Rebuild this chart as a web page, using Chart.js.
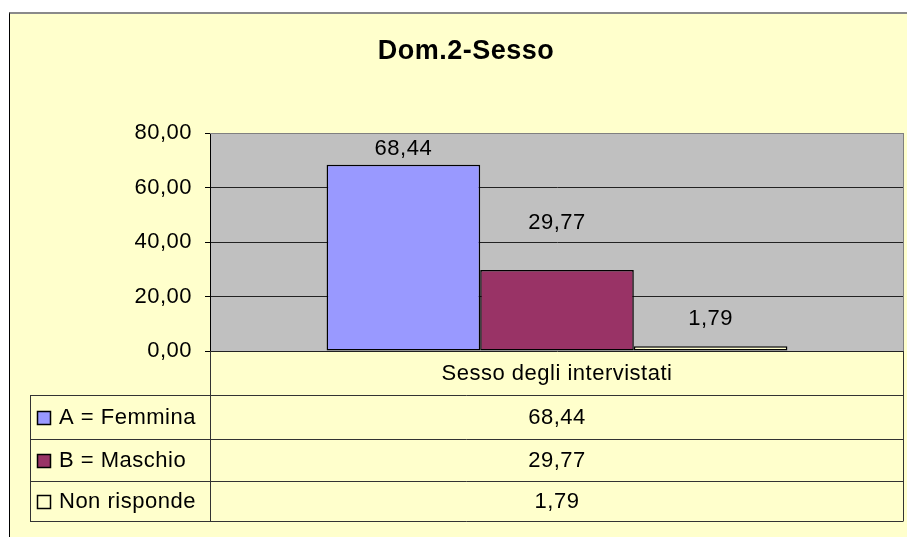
<!DOCTYPE html>
<html>
<head>
<meta charset="utf-8">
<script src="https://cdn.jsdelivr.net/npm/chart.js@4.4.0/dist/chart.umd.min.js"></script>
<style>
  html, body { margin: 0; padding: 0; background: #fff; overflow: hidden; }
  #frame { position: absolute; left: 9px; top: 12px; width: 920px; height: 540px; background: #FFFFCC; border-top: 2px solid #8a8a8a; border-left: 1px solid #000; }
  #sessoChart { position: absolute; left: 0; top: 0; }
</style>
</head>
<body>
<div id="frame"><canvas id="sessoChart" width="897" height="523"></canvas></div>
<script>
// Data
const categories = ['Sesso degli intervistati'];
const seriesNames = ['A = Femmina', 'B = Maschio', 'Non risponde'];
const femmina = [68.44];
const maschio = [29.77];
const nonRisponde = [1.79];
const yTicks = [0, 20, 40, 60, 80];

const seriesColors = ['#9999FF', '#993366', '#FFFFCC'];
const FONT = '"Liberation Sans", Arial, sans-serif';
const TEXT_SIZE = 22;

function fmt(v) {
    return Number(v).toFixed(2).replace('.', ',');
}

/**
 * Grey plot area + slightly wider Excel-like letter spacing
 */
const plotBackground = {
    id: 'plotBackground',
    beforeDraw(chart) {
        const { ctx, chartArea: a } = chart;
        ctx.letterSpacing = '0.5px';
        ctx.save();
        ctx.fillStyle = '#C0C0C0';
        ctx.fillRect(a.left, a.top, a.right - a.left, a.bottom - a.top);
        ctx.restore();
    }
};

/**
 * Value labels above the bars
 */
const barLabels = {
    id: 'barLabels',
    afterDatasetsDraw(chart, args, opts) {
        const { ctx } = chart;
        ctx.save();
        ctx.fillStyle = '#000';
        ctx.font = TEXT_SIZE + 'px ' + FONT;
        ctx.textAlign = 'center';
        ctx.textBaseline = 'middle';
        chart.data.datasets.forEach((ds, i) => {
            chart.getDatasetMeta(i).data.forEach((bar, j) => {
                ctx.fillText(fmt(ds.data[j]), bar.x, bar.y - opts.offsets[i]);
            });
        });
        ctx.restore();
    }
};

/**
 * Excel style data table under the plot
 */
const dataTable = {
    id: 'dataTable',
    afterDraw(chart, args, opts) {
        const { ctx, chartArea: a } = chart;
        const left = opts.left;
        const headerBottom = a.bottom + opts.headerHeight;
        const centerX = (a.left + a.right) / 2;
        let rowTops = [headerBottom];
        opts.rowHeights.forEach(h => rowTops.push(rowTops[rowTops.length - 1] + h));
        const tableBottom = rowTops[rowTops.length - 1];

        ctx.save();
        // plot border top / right
        ctx.strokeStyle = '#808080';
        ctx.lineWidth = 1;
        ctx.beginPath();
        ctx.moveTo(a.left, Math.round(a.top) + 0.5);
        ctx.lineTo(a.right, Math.round(a.top) + 0.5);
        ctx.moveTo(Math.round(a.right) - 0.5, a.top);
        ctx.lineTo(Math.round(a.right) - 0.5, a.bottom);
        ctx.stroke();

        // table lines
        ctx.strokeStyle = '#333';
        ctx.beginPath();
        const xl = Math.round(a.left) + 0.5;
        const xr = Math.round(a.right) - 0.5;
        ctx.moveTo(xl, a.bottom);
        ctx.lineTo(xl, tableBottom);
        ctx.moveTo(xr, a.bottom);
        ctx.lineTo(xr, tableBottom);
        ctx.moveTo(left + 0.5, headerBottom);
        ctx.lineTo(left + 0.5, tableBottom);
        rowTops.forEach(y => {
            ctx.moveTo(left, Math.round(y) + 0.5);
            ctx.lineTo(xr, Math.round(y) + 0.5);
        });
        ctx.stroke();

        // header text
        ctx.fillStyle = '#000';
        ctx.font = TEXT_SIZE + 'px ' + FONT;
        ctx.textBaseline = 'middle';
        ctx.textAlign = 'center';
        ctx.fillText(categories[0], centerX, a.bottom + opts.headerHeight / 2 + 1);

        // rows
        chart.data.datasets.forEach((ds, i) => {
            const yMid = (rowTops[i] + rowTops[i + 1]) / 2 + 1;
            // legend key
            ctx.fillStyle = ds.backgroundColor;
            ctx.fillRect(left + 7, yMid - 7, 14, 14);
            ctx.strokeStyle = '#000';
            ctx.lineWidth = 1.5;
            ctx.strokeRect(left + 7.5, yMid - 6.5, 13, 13);
            ctx.fillStyle = '#000';
            ctx.textAlign = 'left';
            ctx.fillText(ds.label, left + 29, yMid);
            ctx.textAlign = 'center';
            ctx.fillText(fmt(ds.data[0]), centerX, yMid);
        });
        ctx.restore();
    }
};

const ctx = document.getElementById('sessoChart').getContext('2d');
const sessoChart = new Chart(ctx, {
    type: 'bar',
    data: {
        labels: categories,
        datasets: [
            { label: seriesNames[0], data: femmina, backgroundColor: seriesColors[0] },
            { label: seriesNames[1], data: maschio, backgroundColor: seriesColors[1] },
            { label: seriesNames[2], data: nonRisponde, backgroundColor: seriesColors[2] }
        ].map(d => Object.assign(d, {
            borderColor: '#000',
            borderWidth: 1.5,
            borderSkipped: false,
            categoryPercentage: 0.664,
            barPercentage: 1
        }))
    },
    options: {
        responsive: false,
        animation: false,
        // left padding only pushes the title centre to the right; axis width compensates
        layout: { padding: { left: 18, right: 3, top: 0, bottom: 186 } },
        plugins: {
            legend: { display: false },
            tooltip: { enabled: false },
            title: {
                display: true,
                text: 'Dom.2-Sesso',
                color: '#000',
                font: { family: FONT, size: 27, weight: 'bold' },
                padding: { top: 21, bottom: 66 }
            },
            barLabels: { offsets: [16, 47, 27] },
            dataTable: { left: 20, headerHeight: 44, rowHeights: [44, 42, 40] }
        },
        scales: {
            x: { display: false },
            y: {
                min: 0,
                max: 80,
                afterBuildTicks: scale => { scale.ticks = yTicks.map(v => ({ value: v })); },
                afterFit: scale => { scale.width = 182; },
                ticks: {
                    color: '#000',
                    font: { family: FONT, size: TEXT_SIZE },
                    padding: 13,
                    callback: v => fmt(v)
                },
                grid: {
                    color: c => (c.tick && c.tick.value === 80) ? '#808080' : '#222',
                    tickColor: '#000',
                    tickLength: 5,
                    lineWidth: 1
                },
                border: { color: '#000', width: 1 }
            }
        }
    },
    plugins: [plotBackground, barLabels, dataTable]
});
</script>
</body>
</html>
